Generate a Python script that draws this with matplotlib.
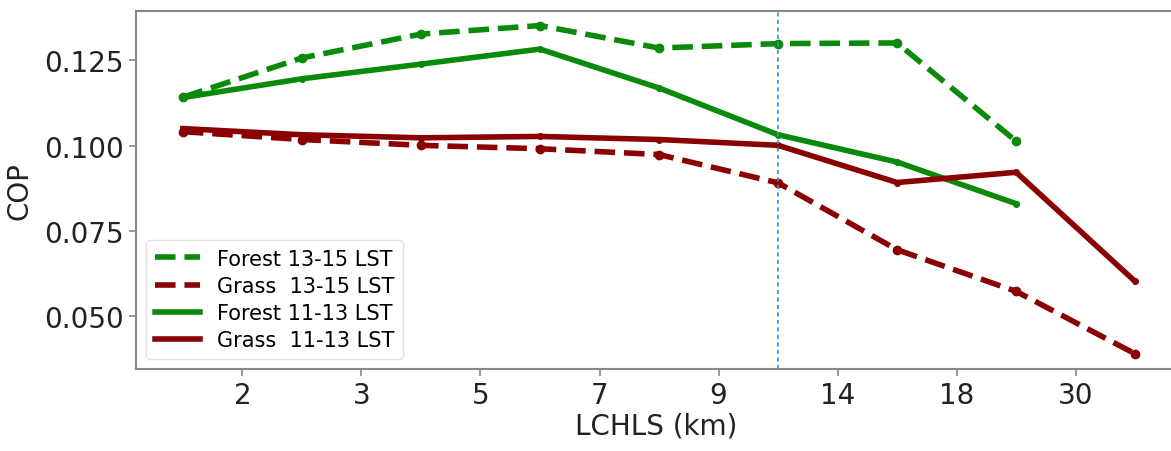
import matplotlib
matplotlib.use('Agg')
import matplotlib.pyplot as plt

# x positions are bin indices; tick labels sit on the bin edges
bins = [0, 1, 2, 3, 4, 5, 6, 7, 8]
edge_pos = [0.5, 1.5, 2.5, 3.5, 4.5, 5.5, 6.5, 7.5]
edge_labels = ['2', '3', '5', '7', '9', '14', '18', '30']

forest_1315 = [0.1142, 0.1257, 0.1327, 0.1352, 0.1286, 0.1299, 0.1301, 0.1013]
grass_1315 = [0.1041, 0.1018, 0.1001, 0.0991, 0.0974, 0.0891, 0.0695, 0.0573, 0.0390]
forest_1113 = [0.1141, 0.1196, 0.1239, 0.1283, 0.1169, 0.1032, 0.0952, 0.0830]
grass_1113 = [0.1050, 0.1032, 0.1023, 0.1027, 0.1018, 0.1001, 0.0892, 0.0922, 0.0602]
split_bin = 5

green = '#0a8a0a'
red = '#8b0000'

fig, ax = plt.subplots(figsize=(11.71, 4.52), dpi=100)
plt.subplots_adjust(left=0.116, right=1.005, top=0.973, bottom=0.181)

ax.plot(bins[:len(forest_1315)], forest_1315, '--', color=green, lw=4, marker='o', ms=6,
        label='Forest 13-15 LST')
ax.plot(bins[:len(grass_1315)], grass_1315, '--', color=red, lw=4, marker='o', ms=6,
        label='Grass  13-15 LST')
ax.plot(bins[:len(forest_1113)], forest_1113, '-', color=green, lw=4, marker='o', ms=4,
        label='Forest 11-13 LST')
ax.plot(bins[:len(grass_1113)], grass_1113, '-', color=red, lw=4, marker='o', ms=4,
        label='Grass  11-13 LST')
ax.axvline(split_bin, color='#3a8fd9', lw=1.2, ls=(0, (2.5, 2)))

ax.set_xlim(-0.395, 8.35)
ax.set_ylim(0.0345, 0.1394)
ax.set_xticks(edge_pos)
ax.set_xticklabels(edge_labels)
ax.set_yticks([0.050, 0.075, 0.100, 0.125])
ax.set_yticklabels(['0.050', '0.075', '0.100', '0.125'])
ax.tick_params(labelsize=20, length=5, width=1.2, colors='#888888', labelcolor='#222222')
for s in ax.spines.values():
    s.set_color('#888888')
    s.set_linewidth(1.5)

ax.set_xlabel('LCHLS (km)', fontsize=20, color='#222222', labelpad=2)
ax.set_ylabel('COP', fontsize=20, color='#222222', labelpad=8)

leg = ax.legend(loc='lower left', fontsize=15, frameon=True, handlelength=2.2,
                borderaxespad=0.5, labelspacing=0.35, fancybox=True)
leg.get_frame().set_edgecolor('#dddddd')
for h in leg.get_lines():
    h.set_marker('None')

plt.savefig('out.png', dpi=100)
